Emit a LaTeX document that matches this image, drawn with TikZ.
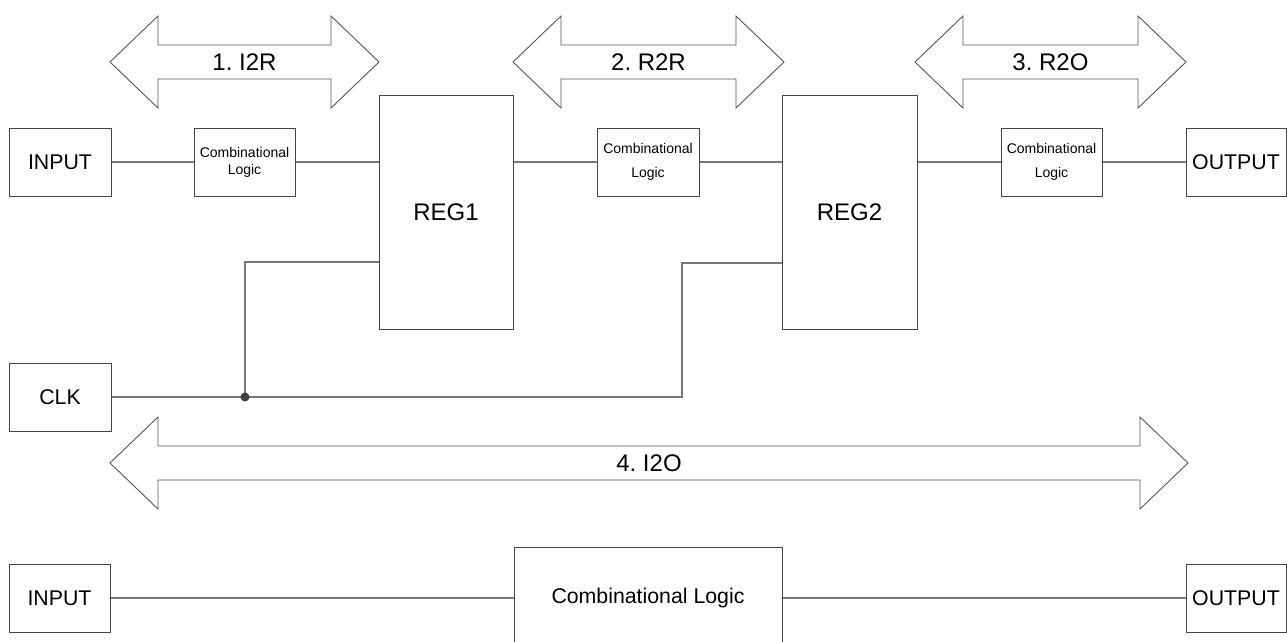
\documentclass[tikz,border=0pt]{standalone}
\usepackage{fontspec}
\setmainfont{Liberation Sans}
\frenchspacing
\definecolor{boxc}{HTML}{444444}
\definecolor{wirec}{HTML}{777777}
\definecolor{arrc}{HTML}{555555}
\definecolor{dotc}{HTML}{404040}
\newcommand{\DblArrow}[5]{% x1, x2, yc, name, label
  \draw[arrowshape] (#1,#3) -- (#1+48,#3-46) -- (#1+48,#3-17) -- (#2-48,#3-17)
    -- (#2-48,#3-46) -- (#2,#3) -- (#2-48,#3+46) -- (#2-48,#3+17)
    -- (#1+48,#3+17) -- (#1+48,#3+46) -- cycle;
  \node[arrlabel] (#4) at ({(#1+#2)/2},#3) {#5};
}
\begin{document}
\begin{tikzpicture}[x=1pt,y=-1pt,
  box/.style={draw=boxc, line width=1pt, fill=white, inner sep=0pt, align=center},
  wire/.style={draw=wirec, line width=1.2pt},
  arrowshape/.style={draw=arrc, line width=0.9pt, line join=miter},
  arrlabel/.style={font=\fontsize{24}{28}\selectfont, inner sep=0pt},
  biglbl/.style={font=\fontsize{21.3}{25}\selectfont},
  reglbl/.style={font=\fontsize{24}{28}\selectfont},
  smalllbl/.style={font=\fontsize{14}{17}\selectfont},
  smalllblw/.style={font=\fontsize{14}{24}\selectfont},
]
\useasboundingbox (0,0) rectangle (1287,642);
\clip (0,0) rectangle (1287,642);

% double arrows
\DblArrow{110}{379}{62}{a1}{1. I2R}
\DblArrow{513}{784}{62}{a2}{2. R2R}
\DblArrow{915}{1186}{62}{a3}{3. R2O}
\DblArrow{110}{1188}{463}{a4}{4. I2O}

% top row
\node[box, biglbl, minimum width=102pt, minimum height=68pt] (in1) at (60,162) {INPUT};
\node[box, smalllbl, minimum width=101pt, minimum height=68pt] (cl1) at (244.5,162) {Combinational\\Logic};
\node[box, reglbl, minimum width=134pt, minimum height=234pt] (reg1) at (446,212) {REG1};
\node[box, smalllblw, minimum width=102pt, minimum height=68pt] (cl2) at (648,162) {Combinational\\Logic};
\node[box, reglbl, minimum width=135pt, minimum height=234pt] (reg2) at (849.5,212) {REG2};
\node[box, smalllblw, minimum width=101pt, minimum height=68pt] (cl3) at (1051.5,162) {Combinational\\Logic};
\node[box, biglbl, minimum width=100pt, minimum height=68pt] (out1) at (1236,162) {OUTPUT};

% clock
\node[box, biglbl, minimum width=102pt, minimum height=68pt] (clk) at (60,397) {CLK};
\coordinate (j) at (245,397);
\coordinate (k) at (682,397);

% bottom row
\node[box, biglbl, minimum width=101pt, minimum height=68pt] (in2) at (59.5,598) {INPUT};
\node[box, minimum width=268pt, minimum height=102pt, anchor=north] (clb) at (648,547) {};
\node[biglbl] (clbt) at (648,598) {Combinational Logic};
\node[box, biglbl, minimum width=100pt, minimum height=68pt] (out2) at (1236,598) {OUTPUT};

% wires top
\draw[wire] (in1.east) -- (cl1.west);
\draw[wire] (cl1.east) -- (cl1.east -| reg1.west);
\draw[wire] (reg1.east |- cl2.west) -- (cl2.west);
\draw[wire] (cl2.east) -- (cl2.east -| reg2.west);
\draw[wire] (reg2.east |- cl3.west) -- (cl3.west);
\draw[wire] (cl3.east) -- (out1.west);

% clock wires
\draw[wire] (clk.east) -- (k) -- (k |- 0,263) -- (reg2.west |- 0,263);
\draw[wire] (j) -- (j |- 0,262) -- (reg1.west |- 0,262);
\fill[dotc] (j) circle (4.5pt);

% wires bottom
\draw[wire] (in2.east) -- (in2.east -| clb.west);
\draw[wire] (clb.east |- out2.west) -- (out2.west);
\end{tikzpicture}
\end{document}
